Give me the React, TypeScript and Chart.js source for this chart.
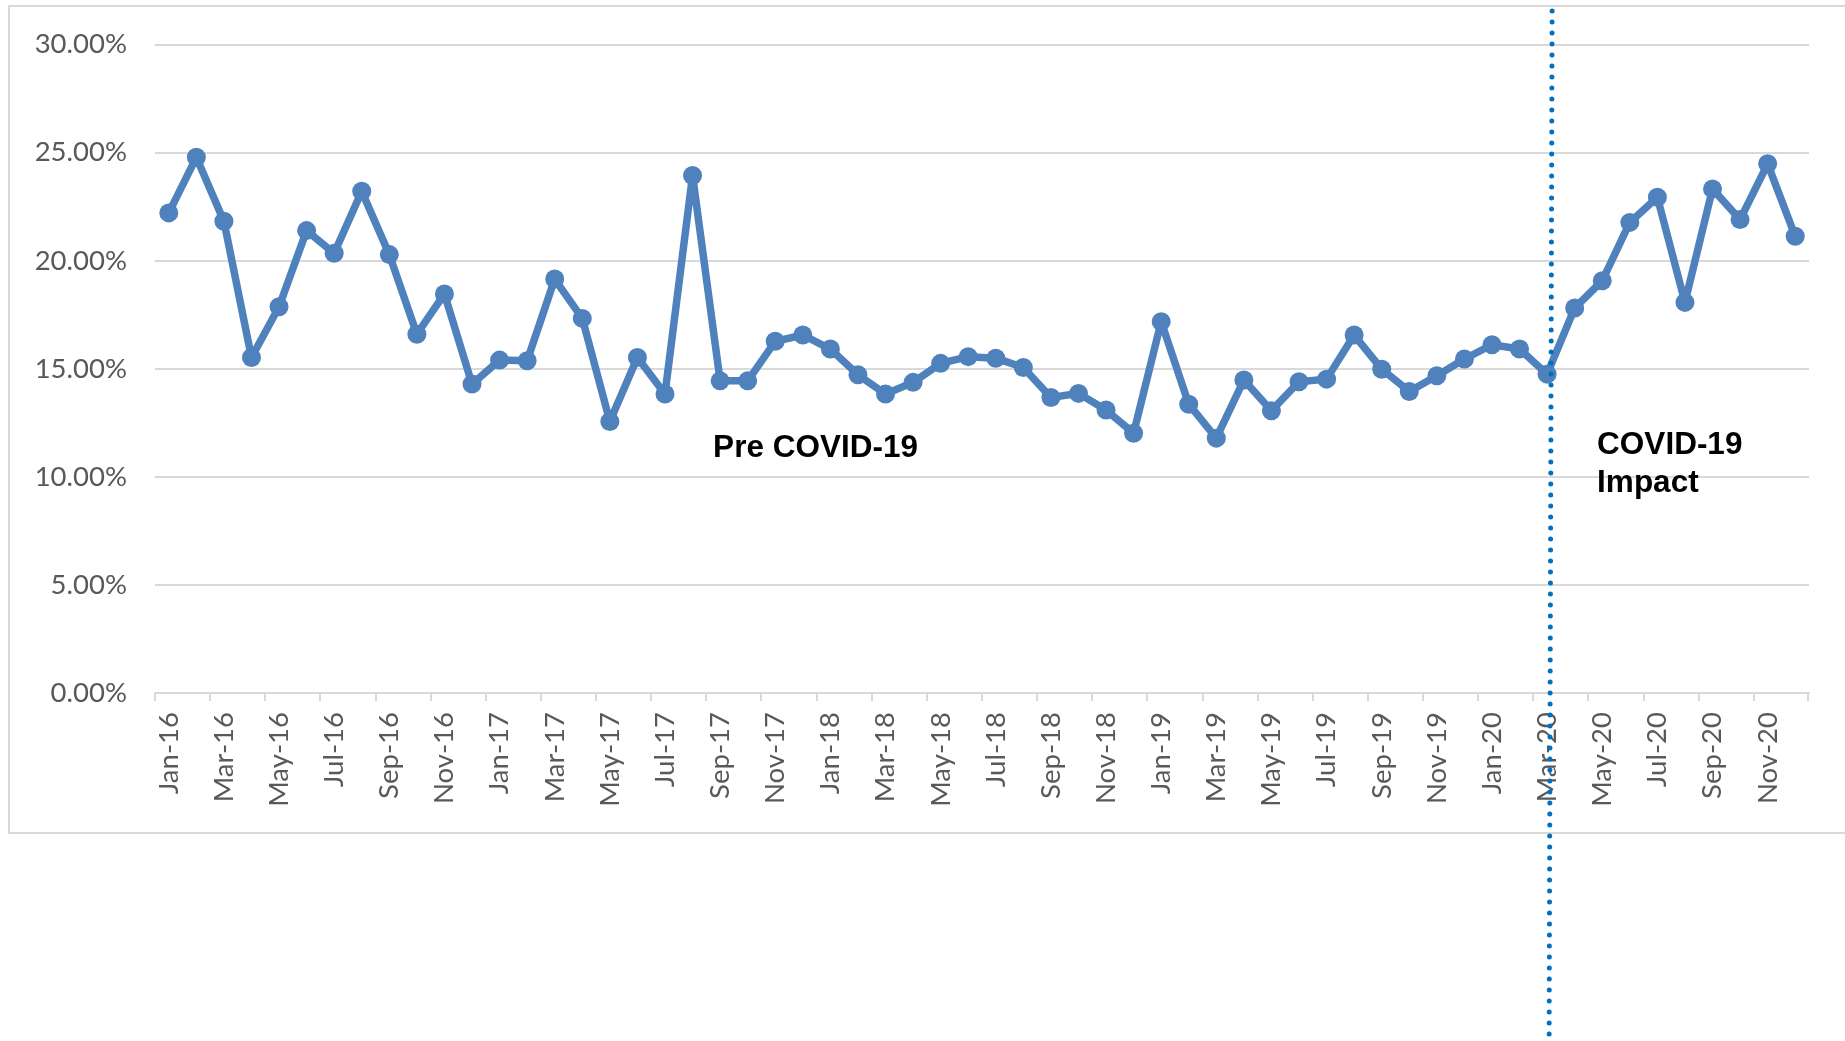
import React, { useEffect, useRef } from "react";
import { Chart, registerables } from "chart.js";

Chart.register(...registerables);

// ---- data ----
const months: string[] = [
  "Jan-16", "Feb-16", "Mar-16", "Apr-16", "May-16", "Jun-16", "Jul-16", "Aug-16", "Sep-16", "Oct-16", "Nov-16", "Dec-16",
  "Jan-17", "Feb-17", "Mar-17", "Apr-17", "May-17", "Jun-17", "Jul-17", "Aug-17", "Sep-17", "Oct-17", "Nov-17", "Dec-17",
  "Jan-18", "Feb-18", "Mar-18", "Apr-18", "May-18", "Jun-18", "Jul-18", "Aug-18", "Sep-18", "Oct-18", "Nov-18", "Dec-18",
  "Jan-19", "Feb-19", "Mar-19", "Apr-19", "May-19", "Jun-19", "Jul-19", "Aug-19", "Sep-19", "Oct-19", "Nov-19", "Dec-19",
  "Jan-20", "Feb-20", "Mar-20", "Apr-20", "May-20", "Jun-20", "Jul-20", "Aug-20", "Sep-20", "Oct-20", "Nov-20", "Dec-20",
];

const rateValues: number[] = [
  22.21, 24.78, 21.82, 15.52, 17.87, 21.39, 20.34, 23.21, 20.28, 16.6, 18.46, 14.29,
  15.4, 15.37, 19.15, 17.33, 12.56, 15.52, 13.83, 23.94, 14.44, 14.44, 16.27, 16.56,
  15.91, 14.72, 13.83, 14.37, 15.25, 15.56, 15.49, 15.06, 13.67, 13.86, 13.09, 12.02,
  17.18, 13.36, 11.79, 14.48, 13.06, 14.4, 14.52, 16.56, 14.98, 13.95, 14.68, 15.45,
  16.11, 15.91, 14.75, 17.81, 19.07, 21.77, 22.93, 18.07, 23.32, 21.9, 24.48, 21.13,
];

const yTicks: number[] = [0, 5, 10, 15, 20, 25, 30];

const covidStartLabel = "Mar-20";
const preLabel = "Pre COVID-19";
const postLabelLines: string[] = ["COVID-19", "Impact"];

const W = 1845;
const H = 1041;

const decorPlugin = {
  id: "decor",
  beforeDraw(chart: any) {
    const ctx = chart.ctx;
    ctx.save();
    ctx.fillStyle = "#ffffff";
    ctx.fillRect(0, 0, chart.width, chart.height);
    // outer chart frame
    ctx.strokeStyle = "#D9D9D9";
    ctx.lineWidth = 2;
    ctx.beginPath();
    ctx.moveTo(W + 10, 6);
    ctx.lineTo(9, 6);
    ctx.lineTo(9, 833);
    ctx.lineTo(W + 10, 833);
    ctx.stroke();
    ctx.restore();
  },
  afterDraw(chart: any) {
    const ctx = chart.ctx;
    const xs = chart.scales.x;
    const ys = chart.scales.y;
    const area = chart.chartArea;
    ctx.save();
    // final tick at right end of the category axis
    ctx.strokeStyle = "#D9D9D9";
    ctx.lineWidth = 2;
    ctx.beginPath();
    ctx.moveTo(area.right - 1, area.bottom);
    ctx.lineTo(area.right - 1, area.bottom + 8);
    ctx.stroke();

    // dotted COVID divider
    const idx = months.indexOf(covidStartLabel);
    const xc = xs.getPixelForValue(idx);
    ctx.strokeStyle = "#0070C0";
    ctx.lineWidth = 5;
    ctx.lineCap = "round";
    ctx.setLineDash([0, 11]);
    ctx.beginPath();
    ctx.moveTo(xc + 5, 11);
    ctx.lineTo(xc + 2, H);
    ctx.stroke();
    ctx.setLineDash([]);

    // annotations
    ctx.fillStyle = "#000000";
    ctx.font = "bold 31.5px 'Liberation Sans', Arial, sans-serif";
    ctx.textAlign = "left";
    ctx.textBaseline = "alphabetic";
    const preX = xs.getPixelForValue(months.indexOf("Sep-17")) - 7;
    const preY = ys.getPixelForValue(10.9);
    ctx.fillText(preLabel, preX, preY);
    const postX = xc + 50;
    let postY = ys.getPixelForValue(11.05);
    postLabelLines.forEach((line) => {
      ctx.fillText(line, postX, postY);
      postY += 38;
    });
    ctx.restore();
  },
};

export default function App() {
  const ref = useRef<HTMLCanvasElement | null>(null);

  useEffect(() => {
    if (!ref.current) return;
    const chart = new Chart(ref.current, {
      type: "line",
      data: {
        labels: months,
        datasets: [
          {
            label: "Rate",
            data: rateValues,
            borderColor: "#4F81BD",
            backgroundColor: "#4F81BD",
            borderWidth: 7.5,
            borderJoinStyle: "round",
            borderCapStyle: "round",
            pointRadius: 9.5,
            pointBackgroundColor: "#4F81BD",
            pointBorderColor: "#4F81BD",
            pointBorderWidth: 0,
            tension: 0,
            fill: false,
          },
        ],
      },
      options: {
        responsive: false,
        animation: false,
        devicePixelRatio: 1,
        layout: { padding: { top: 44, right: 36, left: 0, bottom: 0 } },
        plugins: {
          legend: { display: false },
          tooltip: { enabled: false },
          title: { display: false },
        },
        scales: {
          x: {
            type: "category",
            offset: true,
            afterFit: (s: any) => {
              s.height = H - 693;
            },
            grid: {
              offset: true,
              drawOnChartArea: false,
              drawTicks: true,
              tickLength: 8,
              lineWidth: 2,
              color: (c: any) => (c.index % 2 === 0 ? "#D9D9D9" : "rgba(0,0,0,0)"),
            },
            border: { display: true, color: "#D9D9D9", width: 2 },
            ticks: {
              autoSkip: false,
              maxRotation: 90,
              minRotation: 90,
              padding: 11,
              color: "#595959",
              font: { family: "Lato, 'Open Sans', sans-serif", size: 27.5 },
              callback: (_v: any, i: number) => (i % 2 === 0 ? months[i] : ""),
            },
          },
          y: {
            min: yTicks[0],
            max: yTicks[yTicks.length - 1],
            afterFit: (s: any) => {
              s.width = 155;
            },
            afterBuildTicks: (s: any) => {
              s.ticks = yTicks.map((v) => ({ value: v }));
            },
            grid: {
              color: "#D9D9D9",
              lineWidth: 2,
              drawTicks: false,
            },
            border: { display: false },
            ticks: {
              padding: 28,
              color: "#595959",
              font: { family: "Lato, 'Open Sans', sans-serif", size: 27.5 },
              callback: (v: any) => Number(v).toFixed(2) + "%",
            },
          },
        },
      },
      plugins: [decorPlugin],
    });
    return () => chart.destroy();
  }, []);

  return (
    <div style={{ position: "fixed", left: 0, top: 0, width: W, height: H, background: "#fff" }}>
      <canvas ref={ref} width={W} height={H} style={{ width: W, height: H, display: "block" }} />
    </div>
  );
}
